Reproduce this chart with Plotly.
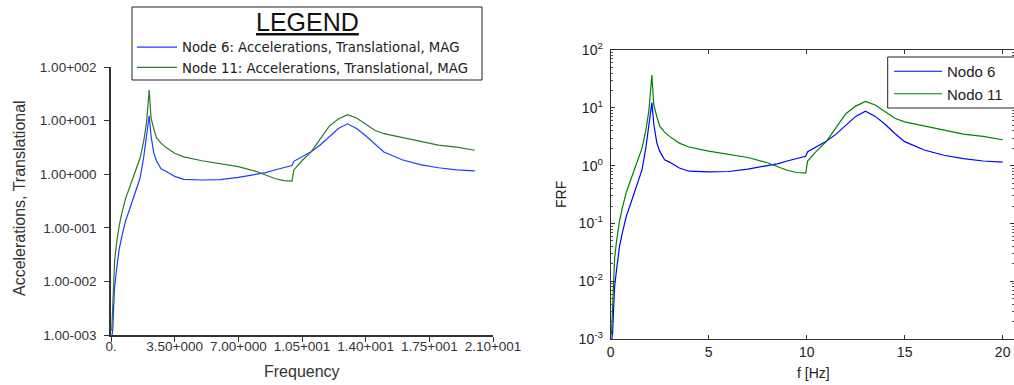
import plotly.graph_objects as go

# ---- data ----
freq = [0.04, 0.1, 0.15, 0.2, 0.3, 0.45, 0.6, 0.8, 1.0, 1.2, 1.4, 1.6, 1.8, 1.95, 2.1,
        2.2, 2.35, 2.5, 2.75, 3.0, 3.5, 4.0, 5.0, 6.0, 7.0, 8.0, 8.5, 9.0, 9.5, 9.95,
        10.05, 10.5, 11.0, 11.5, 12.0, 12.5, 13.0, 13.5, 14.0, 14.5, 15.0, 16.0, 17.0,
        18.0, 19.0, 20.0]
node6 = [0.0009, 0.0013, 0.0035, 0.008, 0.016, 0.04, 0.07, 0.135, 0.21, 0.33, 0.56, 0.85,
         2.1, 5.0, 12.3, 5.2, 2.5, 1.78, 1.26, 1.15, 0.91, 0.80, 0.78, 0.79, 0.87, 1.0,
         1.07, 1.2, 1.32, 1.45, 1.74, 2.14, 2.63, 3.5, 5.0, 7.1, 8.7, 7.1, 5.2, 3.6, 2.6,
         1.86, 1.51, 1.32, 1.2, 1.15]
node11 = [0.0012, 0.0035, 0.0126, 0.025, 0.05, 0.11, 0.19, 0.35, 0.54, 0.85, 1.26, 2.0,
          4.2, 9.0, 37.0, 11.2, 7.1, 4.8, 3.8, 3.2, 2.45, 2.1, 1.78, 1.55, 1.38, 1.12,
          0.95, 0.83, 0.76, 0.74, 1.2, 1.78, 2.6, 4.5, 7.9, 10.7, 12.9, 11.2, 8.5, 6.6,
          5.7, 4.8, 4.1, 3.5, 3.2, 2.8]

left_names = ["Node 6: Accelerations, Translational, MAG",
              "Node 11: Accelerations, Translational, MAG"]
right_names = ["Nodo 6", "Nodo 11"]
legend_title = "LEGEND"

left_xticks = [0, 3.5, 7.0, 10.5, 14.0, 17.5, 21.0]
left_xtext = ["0.", "3.50+000", "7.00+000", "1.05+001", "1.40+001", "1.75+001", "2.10+001"]
left_yticks = [1e-3, 1e-2, 1e-1, 1e0, 1e1, 1e2]
left_ytext = ["1.00-003", "1.00-002", "1.00-001", "1.00+000", "1.00+001", "1.00+002"]

right_xticks = [0, 5, 10, 15, 20]
right_yticks = [1e-3, 1e-2, 1e-1, 1e0, 1e1, 1e2]
right_ytext = ["10<sup>-3</sup>", "10<sup>-2</sup>", "10<sup>-1</sup>",
               "10<sup>0</sup>", "10<sup>1</sup>", "10<sup>2</sup>"]

W, H = 1014, 385
FONT = "Liberation Sans, Arial, sans-serif"


def px_x(p):
    return p / W


def px_y(p):
    return 1 - p / H


fig = go.Figure()

# left chart
fig.add_trace(go.Scatter(x=freq, y=node6, mode="lines", name=left_names[0],
                         line=dict(color="#1f3cff", width=1.2),
                         xaxis="x", yaxis="y", legend="legend"))
fig.add_trace(go.Scatter(x=freq, y=node11, mode="lines", name=left_names[1],
                         line=dict(color="#2a7a2a", width=1.2),
                         xaxis="x", yaxis="y", legend="legend"))
# right chart
fig.add_trace(go.Scatter(x=freq, y=node6, mode="lines", name=right_names[0],
                         line=dict(color="#0000ff", width=1.2),
                         xaxis="x2", yaxis="y2", legend="legend2"))
fig.add_trace(go.Scatter(x=freq, y=node11, mode="lines", name=right_names[1],
                         line=dict(color="#008000", width=1.2),
                         xaxis="x2", yaxis="y2", legend="legend2"))

axis_common = dict(showgrid=False, zeroline=False, showline=True, automargin=False)

fig.update_layout(
    width=W, height=H,
    margin=dict(l=0, r=0, t=0, b=0, autoexpand=False),
    paper_bgcolor="white", plot_bgcolor="white",
    font=dict(family=FONT, color="#222"),
    xaxis=dict(domain=[px_x(111), px_x(493)], range=[0, 21], anchor="y",
               tickmode="array", tickvals=left_xticks, ticktext=left_xtext,
               ticks="outside", ticklen=5, tickcolor="#333", linecolor="#333",
               linewidth=1.5, ticklabelstandoff=-7,
               tickfont=dict(size=13.5, color="#333"), **axis_common),
    yaxis=dict(domain=[px_y(335), px_y(67)], type="log", range=[-3, 2], anchor="x",
               tickmode="array", tickvals=left_yticks, ticktext=left_ytext,
               ticks="outside", ticklen=5, tickcolor="#333", linecolor="#333",
               linewidth=1.5, ticklabelstandoff=5,
               tickfont=dict(size=13.5, color="#333"), **axis_common),
    xaxis2=dict(domain=[px_x(610.7), 1.0], range=[0, 20.58], anchor="y2",
                tickmode="array", tickvals=right_xticks,
                ticks="inside", ticklen=4, tickcolor="#333", linecolor="#333",
                linewidth=1, mirror="ticks", tickfont=dict(size=14, color="#222"),
                **axis_common),
    yaxis2=dict(domain=[px_y(339), px_y(50)], type="log", range=[-3, 2], anchor="x2",
                tickmode="array", tickvals=right_yticks, ticktext=right_ytext,
                ticks="inside", ticklen=4, tickcolor="#333", linecolor="#333",
                linewidth=1, mirror="ticks", ticklabelstandoff=4,
                tickfont=dict(size=14, color="#222"),
                minor=dict(ticks="inside", ticklen=2, tickcolor="#555", dtick="D1",
                           showgrid=False),
                **axis_common),
    legend=dict(x=px_x(132), y=px_y(32), xanchor="left", yanchor="top",
                bgcolor="rgba(0,0,0,0)", borderwidth=0, itemwidth=40,
                font=dict(size=13.3, color="#222", family="DejaVu Sans"),
                tracegroupgap=0, itemclick=False),
    legend2=dict(x=px_x(889), y=px_y(55), xanchor="left", yanchor="top",
                 bgcolor="rgba(0,0,0,0)", borderwidth=0, itemwidth=48,
                 font=dict(size=15, color="#222", family=FONT),
                 tracegroupgap=0, itemclick=False),
    showlegend=True,
    shapes=[
        dict(type="rect", xref="paper", yref="paper", layer="above",
             x0=px_x(132), x1=px_x(482), y0=px_y(80), y1=px_y(7),
             line=dict(color="#222", width=1), fillcolor="white"),
        dict(type="rect", xref="paper", yref="paper", layer="above",
             x0=px_x(887.7), x1=px_x(1030), y0=px_y(108), y1=px_y(57),
             line=dict(color="#222", width=1), fillcolor="white"),
    ],
    annotations=[
        dict(text="<u>" + legend_title + "</u>", x=px_x(307), y=px_y(22),
             xref="paper", yref="paper", xanchor="center", yanchor="middle",
             showarrow=False, font=dict(size=25, color="#111")),
        dict(text="Accelerations, Translational", x=px_x(20), y=px_y(198),
             xref="paper", yref="paper", xanchor="center", yanchor="middle",
             showarrow=False, textangle=-90, font=dict(size=16, color="#333")),
        dict(text="Frequency", x=px_x(302), y=px_y(371), xref="paper", yref="paper",
             xanchor="center", yanchor="middle",
             showarrow=False, font=dict(size=16, color="#333")),
        dict(text="FRF", x=px_x(561), y=px_y(195), xref="paper", yref="paper",
             xanchor="center", yanchor="middle",
             showarrow=False, textangle=-90, font=dict(size=14, color="#222")),
        dict(text="f [Hz]", x=px_x(813), y=px_y(373), xref="paper", yref="paper",
             xanchor="center", yanchor="middle",
             showarrow=False, font=dict(size=14, color="#222")),
    ],
)

fig.write_html("out.html")
